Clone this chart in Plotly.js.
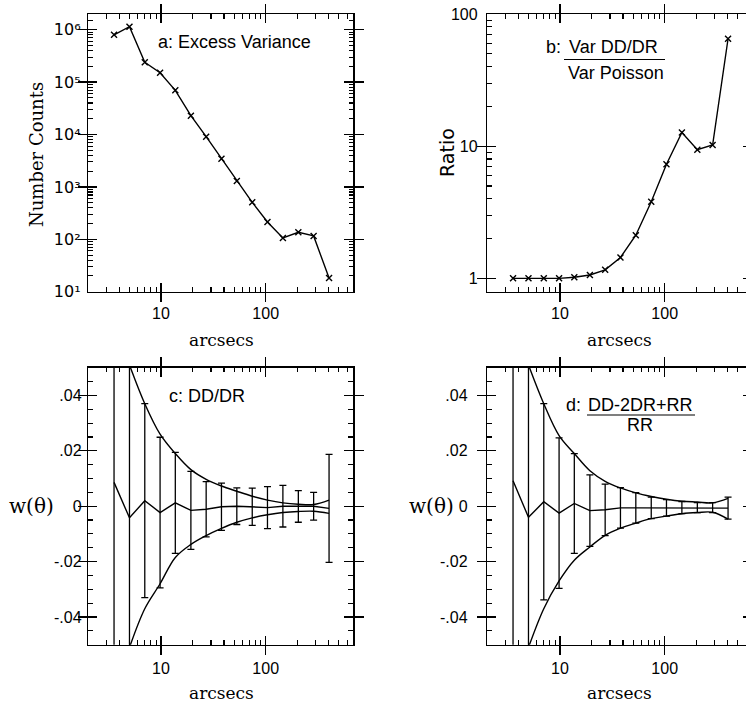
<!DOCTYPE html>
<html><head><meta charset="utf-8">
<script src="https://cdn.plot.ly/plotly-3.0.1.min.js"></script>
<style>html,body{margin:0;padding:0;overflow:hidden;background:#fff}#chart{width:760px;height:704px}</style>
</head><body><div id="chart"></div>
<script>
// ---- data ----
const arcsec = [3.56, 5.0, 7.0, 9.8, 13.7, 19.3, 27, 37.8, 53, 74.4, 104, 146, 205, 287, 403];
const excessVariance = [8.0e5, 1.14e6, 2.39e5, 1.51e5, 6.98e4, 2.29e4, 9.1e3, 3.45e3, 1.30e3, 508, 214, 106, 136, 116, 18.2];
const varianceRatio = [1.0, 1.0, 1.0, 1.0, 1.02, 1.06, 1.16, 1.44, 2.12, 3.8, 7.3, 12.7, 9.4, 10.2, 65];
const wDDDR = [0.0086, -0.0042, 0.002, -0.0023, 0.0012, -0.0015, -0.0011, -0.0002, 0, -0.0002, -0.0005, 0, -0.0001, 0, -0.0008];
const errDDDR = [0.1, 0.1, 0.035, 0.0272, 0.0182, 0.0141, 0.01, 0.0085, 0.0066, 0.0067, 0.0076, 0.0075, 0.0057, 0.005, 0.0195];
const envArcsec = [5.0, 7.0, 9.8, 13.7, 19.3, 27, 37.8, 53, 74.4, 104, 146, 205, 287, 403];
const upperDDDR = [0.051, 0.037, 0.026, 0.019, 0.0132, 0.0097, 0.0073, 0.0054, 0.0036, 0.0022, 0.0012, 0.0007, 0.0006, 0.0022];
const lowerDDDR = [-0.051, -0.037, -0.028, -0.0185, -0.0138, -0.0106, -0.008, -0.0058, -0.0042, -0.0031, -0.0023, -0.0019, -0.0018, -0.0026];
const wLS = [0.0092, -0.004, 0.0016, -0.0025, 0.001, -0.0016, -0.0013, -0.0006, -0.0006, -0.0006, -0.0006, -0.0005, -0.0005, -0.0005, -0.0007];
const errLS = [0.1, 0.1, 0.0354, 0.0272, 0.018, 0.0129, 0.0093, 0.0073, 0.0055, 0.0039, 0.003, 0.0022, 0.0018, 0.0018, 0.004];
const upperLS = [0.051, 0.037, 0.0255, 0.019, 0.0128, 0.009, 0.0066, 0.0048, 0.0035, 0.0025, 0.0018, 0.0015, 0.0012, 0.0028];
const lowerLS = [-0.051, -0.037, -0.027, -0.0195, -0.0147, -0.0105, -0.0079, -0.0061, -0.0045, -0.0036, -0.0027, -0.0023, -0.0022, -0.0047];

// ---- ticks ----
const xTickVals = [10, 100];
const xTickText = ['10', '100'];
const xMinorVals = [3, 4, 5, 6, 7, 8, 9, 20, 30, 40, 50, 60, 70, 80, 90, 200, 300, 400, 500, 600];
const countTickVals = [1e1, 1e2, 1e3, 1e4, 1e5, 1e6];
const countTickText = ['10¹', '10²', '10³', '10⁴', '10⁵', '10⁶'];
const countMinorVals = [20, 30, 40, 50, 60, 70, 80, 90, 200, 300, 400, 500, 600, 700, 800, 900,
  2e3, 3e3, 4e3, 5e3, 6e3, 7e3, 8e3, 9e3, 2e4, 3e4, 4e4, 5e4, 6e4, 7e4, 8e4, 9e4,
  2e5, 3e5, 4e5, 5e5, 6e5, 7e5, 8e5, 9e5, 1.5e6];
const ratioTickVals = [1, 10, 100];
const ratioTickText = ['1', '10', '100'];
const ratioMinorVals = [2, 3, 4, 5, 6, 7, 8, 9, 20, 30, 40, 50, 60, 70, 80, 90];
const wTickVals = [-0.04, -0.02, 0, 0.02, 0.04];
const wTickText = ['-.04', '-.02', '0', '.02', '.04'];
const wMinorVals = [-0.045, -0.035, -0.03, -0.025, -0.015, -0.01, -0.005, 0.005, 0.01, 0.015, 0.025, 0.03, 0.035, 0.045];

// ---- layout helpers ----
const W = 760, H = 704;
const px = v => v / W;
const py = v => 1 - v / H;
const SANS = 'Liberation Sans, Arial, Helvetica, sans-serif';
const SERIF = 'DejaVu Serif, Liberation Serif, serif';
const tickFont = {family: SANS, size: 16, color: '#000'};
const XRANGE = [0.3056, 2.834];

function baseAxis(extra) {
  return Object.assign({
    ticks: 'inside', ticklen: 9, tickwidth: 1.3, tickcolor: '#000',
    showline: true, linewidth: 1.5, linecolor: '#000', mirror: 'allticks',
    showgrid: false, zeroline: false, tickfont: tickFont, fixedrange: true
  }, extra);
}
function minorAxis(extra) {
  return Object.assign({
    ticks: 'inside', ticklen: 4.5, tickwidth: 1.1, tickcolor: '#000',
    showline: false, mirror: 'allticks', showticklabels: false,
    showgrid: false, zeroline: false, fixedrange: true, tickmode: 'array'
  }, extra);
}
function xAxis(dom, anchor, standoff) {
  return baseAxis({
    type: 'log', domain: dom, anchor: anchor, range: XRANGE,
    tickmode: 'array', tickvals: xTickVals, ticktext: xTickText,
    ticklabelstandoff: standoff
  });
}

const colL = [px(88.3), px(353)], colR = [px(487.3), px(752)];
const rowT = [py(291.7), py(14)], rowB = [py(644.7), py(367.7)];

const lineStyle = {color: '#000', width: 1.4};
const splineStyle = {color: '#000', width: 1.4, shape: 'spline', smoothing: 1};
const markerX = {symbol: 'x-thin', size: 6, line: {color: '#000', width: 1.4}, color: '#000'};
const errStyle = (arr) => ({type: 'data', array: arr, visible: true, color: '#000', thickness: 1.3, width: 3.5});

const traces = [
  {x: arcsec, y: excessVariance, xaxis: 'x', yaxis: 'y', mode: 'lines+markers', line: lineStyle, marker: markerX},
  {x: arcsec, y: varianceRatio, xaxis: 'x2', yaxis: 'y2', mode: 'lines+markers', line: lineStyle, marker: markerX},
  {x: arcsec, y: wDDDR, xaxis: 'x3', yaxis: 'y3', mode: 'lines', line: lineStyle, error_y: errStyle(errDDDR)},
  {x: envArcsec, y: upperDDDR, xaxis: 'x3', yaxis: 'y3', mode: 'lines', line: splineStyle},
  {x: envArcsec, y: lowerDDDR, xaxis: 'x3', yaxis: 'y3', mode: 'lines', line: splineStyle},
  {x: arcsec, y: wLS, xaxis: 'x4', yaxis: 'y4', mode: 'lines', line: lineStyle, error_y: errStyle(errLS)},
  {x: envArcsec, y: upperLS, xaxis: 'x4', yaxis: 'y4', mode: 'lines', line: splineStyle},
  {x: envArcsec, y: lowerLS, xaxis: 'x4', yaxis: 'y4', mode: 'lines', line: splineStyle}
];
// empty carriers so the minor-tick overlay axes get drawn
[['x5', 'y'], ['x6', 'y2'], ['x7', 'y3'], ['x8', 'y4'], ['x', 'y5'], ['x2', 'y6'], ['x3', 'y7'], ['x4', 'y8']].forEach(p => {
  traces.push({x: [null], y: [null], xaxis: p[0], yaxis: p[1], mode: 'lines', hoverinfo: 'skip', showlegend: false});
});

function ann(text, x, y, font, extra) {
  return Object.assign({text: text, xref: 'paper', yref: 'paper', x: px(x), y: py(y),
    xanchor: 'center', yanchor: 'middle', showarrow: false, font: font}, extra || {});
}
const labFont = {family: SANS, size: 18, color: '#000'};
const titleSerif = {family: SERIF, size: 17, color: '#000'};
const wFont = {family: SERIF, size: 20, color: '#000'};

const layout = {
  width: W, height: H, margin: {l: 0, r: 0, t: 0, b: 0},
  paper_bgcolor: '#fff', plot_bgcolor: '#fff', showlegend: false,
  xaxis: xAxis(colL, 'y', 7),
  xaxis2: xAxis(colR, 'y2', 7),
  xaxis3: xAxis(colL, 'y3', 9),
  xaxis4: xAxis(colR, 'y4', 9),
  yaxis: baseAxis({type: 'log', domain: rowT, anchor: 'x', range: [1, 6.30], tickmode: 'array',
    tickvals: countTickVals, ticktext: countTickText, ticklabelstandoff: 3,
    tickfont: {family: 'DejaVu Sans, sans-serif', size: 16, color: '#000'}}),
  yaxis2: baseAxis({type: 'log', domain: rowT, anchor: 'x2', range: [-0.101, 2.0], tickmode: 'array',
    tickvals: ratioTickVals, ticktext: ratioTickText, ticklabelstandoff: 5}),
  yaxis3: baseAxis({domain: rowB, anchor: 'x3', range: [-0.05, 0.05], tickmode: 'array',
    tickvals: wTickVals, ticktext: wTickText, ticklabelstandoff: 2}),
  yaxis4: baseAxis({domain: rowB, anchor: 'x4', range: [-0.05, 0.05], tickmode: 'array',
    tickvals: wTickVals, ticktext: wTickText, ticklabelstandoff: 15}),
  xaxis5: minorAxis({type: 'log', overlaying: 'x', anchor: 'y', range: XRANGE, tickvals: xMinorVals}),
  xaxis6: minorAxis({type: 'log', overlaying: 'x2', anchor: 'y2', range: XRANGE, tickvals: xMinorVals}),
  xaxis7: minorAxis({type: 'log', overlaying: 'x3', anchor: 'y3', range: XRANGE, tickvals: xMinorVals}),
  xaxis8: minorAxis({type: 'log', overlaying: 'x4', anchor: 'y4', range: XRANGE, tickvals: xMinorVals}),
  yaxis5: minorAxis({type: 'log', overlaying: 'y', anchor: 'x', range: [1, 6.30], tickvals: countMinorVals}),
  yaxis6: minorAxis({type: 'log', overlaying: 'y2', anchor: 'x2', range: [-0.101, 2.0], tickvals: ratioMinorVals}),
  yaxis7: minorAxis({overlaying: 'y3', anchor: 'x3', range: [-0.05, 0.05], tickvals: wMinorVals, ticklen: 5}),
  yaxis8: minorAxis({overlaying: 'y4', anchor: 'x4', range: [-0.05, 0.05], tickvals: wMinorVals, ticklen: 5}),
  annotations: [
    ann('a: Excess Variance', 234.2, 41.7, labFont),
    ann('b:', 553, 47, labFont),
    ann('Var DD/DR', 613.7, 47, labFont),
    ann('Var Poisson', 616, 73, labFont),
    ann('c: DD/DR', 206.7, 395.5, labFont),
    ann('d:', 573.5, 405, labFont),
    ann('DD-2DR+RR', 640.5, 405, labFont),
    ann('RR', 640, 425, labFont),
    ann('Number Counts', 36, 155, {family: SERIF, size: 18, color: '#000'}, {textangle: -90}),
    ann('Ratio', 447, 153, {family: 'DejaVu Sans, sans-serif', size: 19, color: '#000'}, {textangle: -90}),
    ann('w(θ)', 31, 505.7, wFont),
    ann('w(θ)', 431, 505.7, wFont),
    ann('arcsecs', 221, 340, titleSerif),
    ann('arcsecs', 619, 340, titleSerif),
    ann('arcsecs', 221, 693, titleSerif),
    ann('arcsecs', 619, 693, titleSerif)
  ],
  shapes: [
    {type: 'line', xref: 'paper', yref: 'paper', x0: px(564), x1: px(665), y0: py(59.5), y1: py(59.5), line: {color: '#000', width: 1.2}},
    {type: 'line', xref: 'paper', yref: 'paper', x0: px(587), x1: px(695), y0: py(415), y1: py(415), line: {color: '#000', width: 1.2}}
  ]
};

Plotly.newPlot('chart', traces, layout, {staticPlot: true, displayModeBar: false});
</script>
</body></html>
